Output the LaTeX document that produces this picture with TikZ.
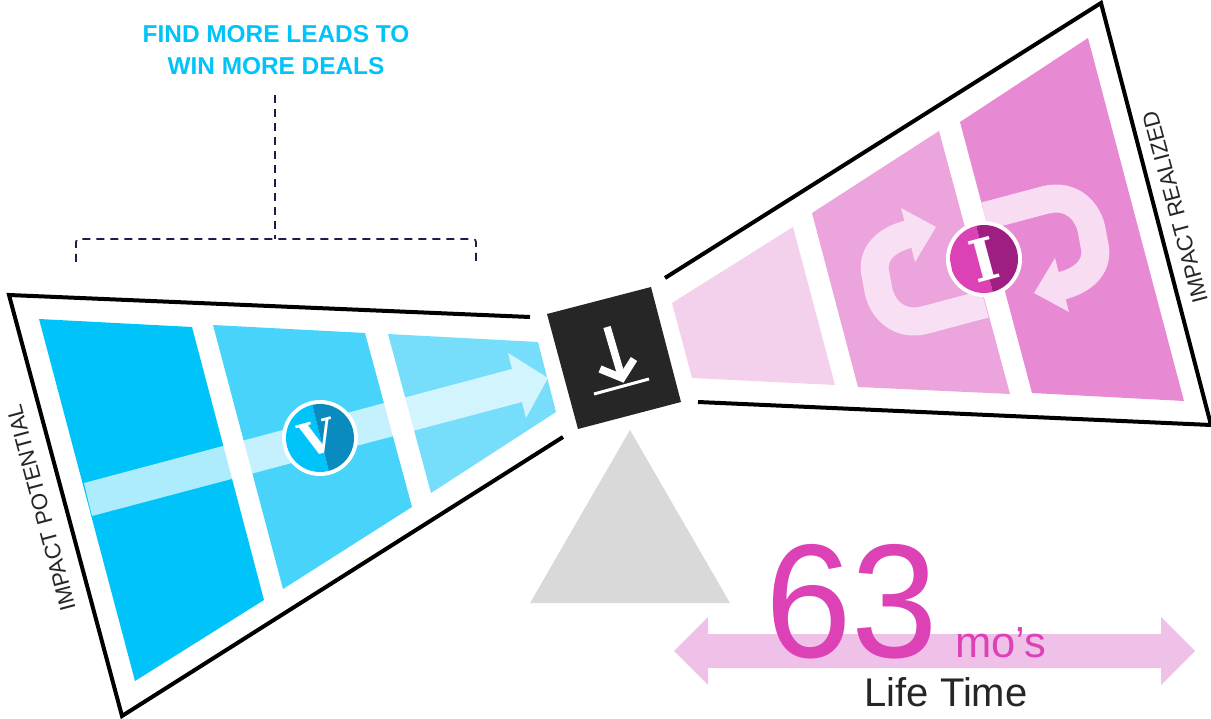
\documentclass[tikz,border=0pt]{standalone}
\usepackage{fontspec}
\newfontfamily\labelfont{Liberation Sans}
\newfontfamily\badgefont{DejaVu Serif}
\definecolor{vblue}{HTML}{00C4F9}
\definecolor{vbluemid}{HTML}{48D4FA}
\definecolor{vbluelight}{HTML}{76DEFB}
\definecolor{vbluedark}{HTML}{0A8BC0}
\definecolor{ipink}{HTML}{DC42B6}
\definecolor{ipinkdark}{HTML}{9E1E82}
\definecolor{ipinkmid}{HTML}{ECA4DC}
\definecolor{ipinklight}{HTML}{F3D0EC}
\definecolor{ipinkback}{HTML}{E88AD3}
\definecolor{spanpink}{HTML}{F0C1E8}
\definecolor{boxdark}{HTML}{262626}
\definecolor{bracketnavy}{HTML}{1F1B4D}
\tikzset{
    edgeline/.style={black,line width=4pt,line join=miter},
    bracketline/.style={dash pattern=on 8pt off 6pt,line width=1.7pt,color=bracketnavy},
    sidelabel/.style={rotate=105,inner sep=0pt,text=boxdark,font=\labelfont\fontsize{22.3}{22.3}\selectfont},
    badgeletter/.style={rotate=15,inner sep=0pt,text=white,font=\badgefont\bfseries\fontsize{#1}{#1}\selectfont},
    loopband/.style={line width=28pt},
}
\begin{document}
\begin{tikzpicture}[x=1pt,y=-1pt]
    \useasboundingbox (0,0) rectangle (1211,719);

    % Judul dan kurung
    \node[align=center,inner sep=0pt,text=vblue,font=\labelfont\bfseries\fontsize{24.4}{32}\selectfont] (headline) at (276,50) {FIND MORE LEADS TO\\WIN MORE DEALS};
    \draw[bracketline] (275,95) -- (275,239);
    \draw[bracketline,rounded corners=3pt] (76,262) -- (76,239) -- (476,239) -- (476,262);

    % Garis tepi
    \draw[edgeline] (530,317) -- (9,295) -- (122,716) -- (563,437);
    \draw[edgeline] (665,278) -- (1101,3) -- (1211,425) -- (698,402);

    % Panel biru
    \fill[vblue] (39,319) -- (192,327) -- (264,600) -- (135,681) -- cycle;
    \fill[vbluemid] (213,325) -- (365,333) -- (412,507) -- (283,589) -- cycle;
    \fill[vbluelight] (388,334) -- (538,342) -- (556,412) -- (431,493) -- cycle;

    % Panah biru
    \fill[white,opacity=0.68] (84,483) -- (512,369) -- (508,353) -- (548,378) -- (526,418) -- (522,402) -- (92,516) -- cycle;

    % Panel merah muda
    \fill[ipinklight] (672,303) -- (793,227) -- (835,385) -- (692,378) -- cycle;
    \fill[ipinkmid] (812,213) -- (939,131) -- (1010,394) -- (858,387) -- cycle;
    \fill[ipinkback] (960,122) -- (1088,38) -- (1184,401) -- (1032,393) -- cycle;

    % Panah putar
    \draw[loopband,color=ipinkback!30!white] (985,216) -- (1045,200) .. controls (1072,193) and (1089,212) .. (1092,232) -- (1094,243) .. controls (1100,265) and (1085,280) .. (1061,286);
    \fill[ipinkback!30!white] (1055,258) -- (1034,293) -- (1069,312) -- cycle;
    \begin{scope}[rotate around={180:(985,260)}]
        \draw[loopband,color=ipinkmid!35!white] (985,216) -- (1045,200) .. controls (1072,193) and (1089,212) .. (1092,232) -- (1094,243) .. controls (1100,265) and (1085,280) .. (1061,286);
        \fill[ipinkmid!35!white] (1055,258) -- (1034,293) -- (1069,312) -- cycle;
    \end{scope}

    % Lencana V
    \fill[white] (320,438) circle (38);
    \begin{scope}
        \clip (320,438) circle (34);
        \fill[vblue] (280,380) -- (312,404) -- (329,472) -- (290,490) -- cycle;
        \fill[vbluedark] (312,404) -- (329,472) -- (370,480) -- (370,390) -- cycle;
    \end{scope}
    \node[badgeletter=46] (vmark) at (317,438) {V};

    % Lencana I
    \fill[white] (984,259) circle (38);
    \begin{scope}
        \clip (984,259) circle (34);
        \fill[ipink] (940,210) -- (976,225) -- (993,293) -- (960,310) -- cycle;
        \fill[ipinkdark] (976,225) -- (993,293) -- (1030,300) -- (1030,215) -- cycle;
    \end{scope}
    \node[badgeletter=58] (imark) at (984,260) {I};

    % Kotak tengah
    \fill[boxdark] (547,314) -- (651,287) -- (681,402) -- (578,429) -- cycle;
    \draw[white,line width=7.5pt] (607,327) -- (622,378);
    \draw[white,line width=7.5pt] (600,369) -- (622,378) -- (634,359);
    \draw[white,line width=3pt] (594,394) -- (649,379);

    % Segitiga
    \fill[black!15] (630,430) -- (730,603) -- (530,603) -- cycle;

    % Panah masa
    \fill[spanpink] (674,651) -- (708,617) -- (708,634) -- (1161,634) -- (1161,617) -- (1195,651) -- (1161,685) -- (1161,668) -- (708,668) -- (708,685) -- cycle;

    % Angka
    \node[anchor=base west,inner sep=0pt,xscale=0.96,text=ipink,font=\labelfont\fontsize{162}{162}\selectfont] (months) at (765,657) {63};
    \node[anchor=base west,inner sep=0pt,text=ipink,font=\labelfont\fontsize{43.5}{43.5}\selectfont] (unit) at (955,657) {mo’s};
    \node[anchor=base,inner sep=0pt,text=boxdark,font=\labelfont\fontsize{40}{40}\selectfont] (lifetime) at (946,706) {Life Time};

    % Label sisi
    \node[sidelabel] (potential) at (41,508) {IMPACT POTENTIAL};
    \node[sidelabel] (realized) at (1175,207) {IMPACT REALIZED};
\end{tikzpicture}
\end{document}
